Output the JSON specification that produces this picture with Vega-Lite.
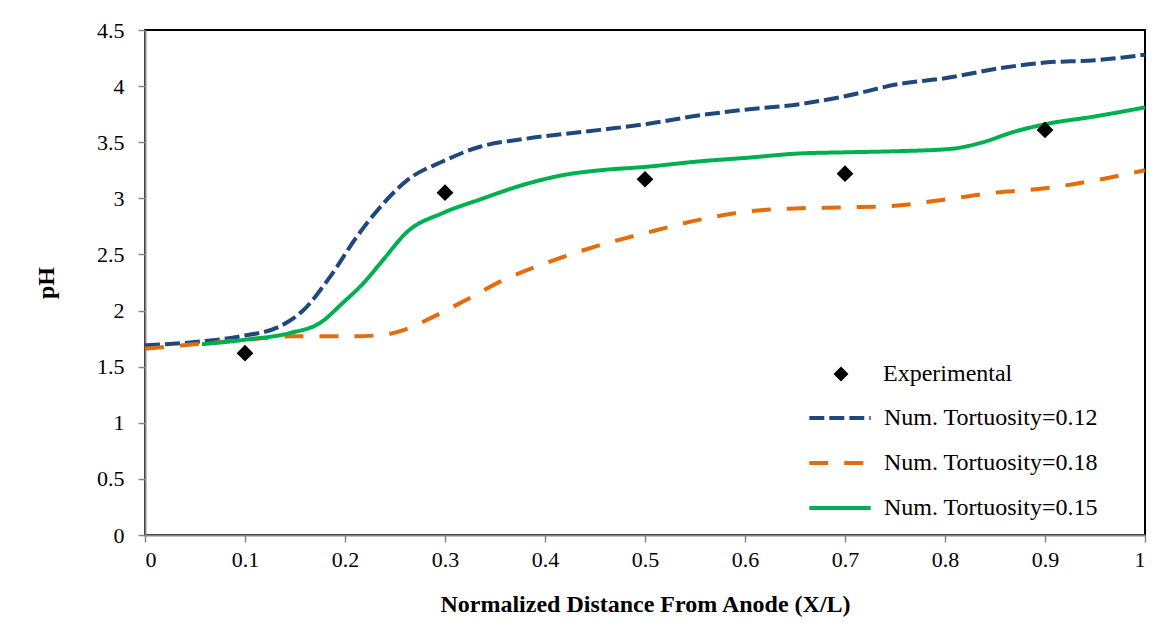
{
  "$schema": "https://vega.github.io/schema/vega-lite/v6.json",
  "width": 1000,
  "height": 505,
  "autosize": {"type": "none"},
  "padding": {"left": 145, "top": 30, "right": 30, "bottom": 104},
  "background": "white",
  "config": {
    "font": "Liberation Serif",
    "view": {"stroke": "black", "strokeWidth": 2},
    "axis": {
      "grid": false,
      "domainColor": "#868686",
      "domainWidth": 2,
      "tickColor": "#868686",
      "tickWidth": 1.5,
      "tickSize": 7,
      "labelFont": "Liberation Serif",
      "labelFontSize": 22,
      "labelColor": "black",
      "titleFont": "Liberation Serif",
      "titleFontSize": 24,
      "titleFontWeight": "bold",
      "titleColor": "black"
    },
    "legend": {
      "labelFont": "Liberation Serif",
      "labelFontSize": 24,
      "labelColor": "black",
      "labelLimit": 400,
      "padding": 0
    }
  },
  "data": {
    "values": [
      {"series": "Num. Tortuosity=0.12", "x": 0, "pH": 1.69},
      {"series": "Num. Tortuosity=0.12", "x": 0.05, "pH": 1.72},
      {"series": "Num. Tortuosity=0.12", "x": 0.095, "pH": 1.77},
      {"series": "Num. Tortuosity=0.12", "x": 0.135, "pH": 1.86},
      {"series": "Num. Tortuosity=0.12", "x": 0.158, "pH": 2.0},
      {"series": "Num. Tortuosity=0.12", "x": 0.185, "pH": 2.3},
      {"series": "Num. Tortuosity=0.12", "x": 0.212, "pH": 2.66},
      {"series": "Num. Tortuosity=0.12", "x": 0.235, "pH": 2.92},
      {"series": "Num. Tortuosity=0.12", "x": 0.262, "pH": 3.16},
      {"series": "Num. Tortuosity=0.12", "x": 0.298, "pH": 3.33},
      {"series": "Num. Tortuosity=0.12", "x": 0.335, "pH": 3.46},
      {"series": "Num. Tortuosity=0.12", "x": 0.38, "pH": 3.53},
      {"series": "Num. Tortuosity=0.12", "x": 0.455, "pH": 3.61},
      {"series": "Num. Tortuosity=0.12", "x": 0.5, "pH": 3.66},
      {"series": "Num. Tortuosity=0.12", "x": 0.555, "pH": 3.74},
      {"series": "Num. Tortuosity=0.12", "x": 0.6, "pH": 3.79},
      {"series": "Num. Tortuosity=0.12", "x": 0.655, "pH": 3.84},
      {"series": "Num. Tortuosity=0.12", "x": 0.7, "pH": 3.91},
      {"series": "Num. Tortuosity=0.12", "x": 0.755, "pH": 4.02},
      {"series": "Num. Tortuosity=0.12", "x": 0.8, "pH": 4.07},
      {"series": "Num. Tortuosity=0.12", "x": 0.855, "pH": 4.16},
      {"series": "Num. Tortuosity=0.12", "x": 0.9, "pH": 4.21},
      {"series": "Num. Tortuosity=0.12", "x": 0.95, "pH": 4.23},
      {"series": "Num. Tortuosity=0.12", "x": 1.0, "pH": 4.28},
      {"series": "Num. Tortuosity=0.18", "x": 0, "pH": 1.66},
      {"series": "Num. Tortuosity=0.18", "x": 0.05, "pH": 1.7},
      {"series": "Num. Tortuosity=0.18", "x": 0.1, "pH": 1.74},
      {"series": "Num. Tortuosity=0.18", "x": 0.15, "pH": 1.77},
      {"series": "Num. Tortuosity=0.18", "x": 0.2, "pH": 1.77},
      {"series": "Num. Tortuosity=0.18", "x": 0.235, "pH": 1.78},
      {"series": "Num. Tortuosity=0.18", "x": 0.26, "pH": 1.83},
      {"series": "Num. Tortuosity=0.18", "x": 0.285, "pH": 1.93},
      {"series": "Num. Tortuosity=0.18", "x": 0.318, "pH": 2.08},
      {"series": "Num. Tortuosity=0.18", "x": 0.358, "pH": 2.27},
      {"series": "Num. Tortuosity=0.18", "x": 0.4, "pH": 2.42},
      {"series": "Num. Tortuosity=0.18", "x": 0.45, "pH": 2.57},
      {"series": "Num. Tortuosity=0.18", "x": 0.5, "pH": 2.69},
      {"series": "Num. Tortuosity=0.18", "x": 0.555, "pH": 2.81},
      {"series": "Num. Tortuosity=0.18", "x": 0.6, "pH": 2.88},
      {"series": "Num. Tortuosity=0.18", "x": 0.65, "pH": 2.91},
      {"series": "Num. Tortuosity=0.18", "x": 0.7, "pH": 2.92},
      {"series": "Num. Tortuosity=0.18", "x": 0.745, "pH": 2.93},
      {"series": "Num. Tortuosity=0.18", "x": 0.8, "pH": 2.99},
      {"series": "Num. Tortuosity=0.18", "x": 0.85, "pH": 3.05},
      {"series": "Num. Tortuosity=0.18", "x": 0.9, "pH": 3.09},
      {"series": "Num. Tortuosity=0.18", "x": 0.95, "pH": 3.16},
      {"series": "Num. Tortuosity=0.18", "x": 1.0, "pH": 3.25},
      {"series": "Num. Tortuosity=0.15", "x": 0.057, "pH": 1.7},
      {"series": "Num. Tortuosity=0.15", "x": 0.1, "pH": 1.74},
      {"series": "Num. Tortuosity=0.15", "x": 0.145, "pH": 1.8},
      {"series": "Num. Tortuosity=0.15", "x": 0.175, "pH": 1.89},
      {"series": "Num. Tortuosity=0.15", "x": 0.198, "pH": 2.07},
      {"series": "Num. Tortuosity=0.15", "x": 0.218, "pH": 2.24},
      {"series": "Num. Tortuosity=0.15", "x": 0.238, "pH": 2.45},
      {"series": "Num. Tortuosity=0.15", "x": 0.262, "pH": 2.7},
      {"series": "Num. Tortuosity=0.15", "x": 0.298, "pH": 2.87},
      {"series": "Num. Tortuosity=0.15", "x": 0.335, "pH": 2.99},
      {"series": "Num. Tortuosity=0.15", "x": 0.382, "pH": 3.13},
      {"series": "Num. Tortuosity=0.15", "x": 0.42, "pH": 3.21},
      {"series": "Num. Tortuosity=0.15", "x": 0.455, "pH": 3.25},
      {"series": "Num. Tortuosity=0.15", "x": 0.5, "pH": 3.28},
      {"series": "Num. Tortuosity=0.15", "x": 0.555, "pH": 3.33},
      {"series": "Num. Tortuosity=0.15", "x": 0.6, "pH": 3.36},
      {"series": "Num. Tortuosity=0.15", "x": 0.655, "pH": 3.4},
      {"series": "Num. Tortuosity=0.15", "x": 0.7, "pH": 3.41},
      {"series": "Num. Tortuosity=0.15", "x": 0.752, "pH": 3.42},
      {"series": "Num. Tortuosity=0.15", "x": 0.805, "pH": 3.44},
      {"series": "Num. Tortuosity=0.15", "x": 0.838, "pH": 3.5},
      {"series": "Num. Tortuosity=0.15", "x": 0.868, "pH": 3.59},
      {"series": "Num. Tortuosity=0.15", "x": 0.9, "pH": 3.66},
      {"series": "Num. Tortuosity=0.15", "x": 0.95, "pH": 3.73},
      {"series": "Num. Tortuosity=0.15", "x": 1.0, "pH": 3.81},
      {"series": "Experimental", "x": 0.1, "pH": 1.62},
      {"series": "Experimental", "x": 0.3, "pH": 3.05},
      {"series": "Experimental", "x": 0.5, "pH": 3.17},
      {"series": "Experimental", "x": 0.7, "pH": 3.22},
      {"series": "Experimental", "x": 0.9, "pH": 3.61}
    ]
  },
  "encoding": {
    "x": {
      "field": "x",
      "type": "quantitative",
      "scale": {"domain": [0, 1], "nice": false},
      "axis": {
        "values": [0, 0.1, 0.2, 0.3, 0.4, 0.5, 0.6, 0.7, 0.8, 0.9, 1],
        "format": "~g",
        "title": "Normalized Distance From Anode (X/L)",
        "labelPadding": 7,
        "titlePadding": 22
      }
    },
    "y": {
      "field": "pH",
      "type": "quantitative",
      "scale": {"domain": [0, 4.5], "nice": false},
      "axis": {
        "values": [0, 0.5, 1, 1.5, 2, 2.5, 3, 3.5, 4, 4.5],
        "format": "~g",
        "title": "pH",
        "labelPadding": 14,
        "titlePadding": 38
      }
    }
  },
  "layer": [
    {
      "transform": [{"filter": "datum.series !== 'Experimental'"}],
      "mark": {"type": "line", "interpolate": "monotone", "strokeWidth": 4},
      "encoding": {
        "color": {
          "field": "series",
          "type": "nominal",
          "scale": {
            "domain": ["Num. Tortuosity=0.12", "Num. Tortuosity=0.18", "Num. Tortuosity=0.15"],
            "range": ["#1F497D", "#E46C0A", "#00B050"]
          },
          "legend": {
            "orient": "none",
            "legendX": 662,
            "legendY": 355,
            "title": null,
            "symbolType": "stroke",
            "symbolSize": 3770,
            "symbolStrokeWidth": 4,
            "labelOffset": 11,
            "rowPadding": 0
          }
        },
        "strokeDash": {
          "field": "series",
          "type": "nominal",
          "scale": {
            "domain": ["Num. Tortuosity=0.12", "Num. Tortuosity=0.18", "Num. Tortuosity=0.15"],
            "range": [[15, 5], [19, 16], [1, 0]]
          },
          "legend": {
            "orient": "none",
            "legendX": 662,
            "legendY": 355,
            "title": null,
            "symbolType": "stroke",
            "symbolSize": 3770,
            "symbolStrokeWidth": 4,
            "labelOffset": 11,
            "rowPadding": 0
          }
        }
      }
    },
    {
      "transform": [{"filter": "datum.series === 'Experimental'"}],
      "mark": {"type": "point", "shape": "diamond", "filled": true, "color": "black", "size": 280, "opacity": 1},
      "encoding": {
        "shape": {
          "field": "series",
          "type": "nominal",
          "scale": {"domain": ["Experimental"], "range": ["diamond"]},
          "legend": {
            "orient": "none",
            "legendX": 684,
            "legendY": 332,
            "title": null,
            "symbolSize": 225,
            "symbolFillColor": "black",
            "symbolStrokeColor": "black",
            "symbolOpacity": 1,
            "labelOffset": 30
          }
        }
      }
    }
  ]
}
